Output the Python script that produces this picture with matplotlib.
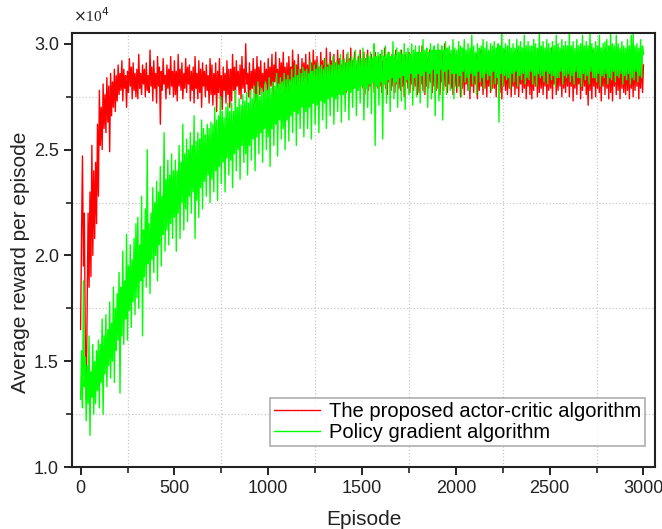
import numpy as np
import matplotlib
matplotlib.use("Agg")
import matplotlib.pyplot as plt
from matplotlib.ticker import MultipleLocator, FormatStrFormatter

episodes = np.arange(0, 3001, 5)

actor_critic = [
    1.65, 2.10, 2.47, 1.95, 2.20, 1.60, 1.32, 1.75, 2.20, 1.85, 2.30, 1.90, 2.52, 2.00, 2.40, 2.08, 2.44, 2.15, 2.62, 2.28,
    2.78, 2.52, 2.70, 2.50, 2.81, 2.60, 2.76, 2.58, 2.84, 2.63, 2.80, 2.49, 2.86, 2.66, 2.82, 2.70, 2.88, 2.68, 2.85, 2.73,
    2.90, 2.76, 2.86, 2.78, 2.92, 2.73, 2.88, 2.79, 2.85, 2.70, 2.87, 2.77, 2.93, 2.80, 2.89, 2.74, 2.91, 2.78, 2.86, 2.75,
    2.88, 2.74, 2.95, 2.79, 2.86, 2.76, 2.90, 2.81, 2.88, 2.75, 2.91, 2.78, 2.85, 2.77, 2.97, 2.80, 2.89, 2.73, 2.92, 2.79,
    2.86, 2.72, 2.94, 2.80, 2.89, 2.62, 2.87, 2.78, 2.93, 2.81, 2.85, 2.74, 2.90, 2.79, 2.88, 2.76, 2.94, 2.80, 2.87, 2.75,
    2.92, 2.76, 2.87, 2.73, 2.95, 2.80, 2.88, 2.78, 2.91, 2.74, 2.86, 2.79, 2.93, 2.77, 2.89, 2.81, 2.90, 2.73, 2.87, 2.78,
    2.89, 2.72, 2.94, 2.79, 2.86, 2.74, 2.92, 2.77, 2.88, 2.70, 2.91, 2.80, 2.87, 2.75, 2.90, 2.78, 2.85, 2.72, 2.93, 2.76,
    2.90, 2.71, 2.86, 2.76, 2.91, 2.68, 2.87, 2.77, 2.93, 2.74, 2.85, 2.69, 2.89, 2.78, 2.86, 2.72, 2.92, 2.76, 2.88, 2.70,
    2.88, 2.73, 2.95, 2.78, 2.89, 2.72, 2.92, 2.80, 2.87, 2.76, 2.90, 2.74, 2.94, 2.79, 2.88, 2.77, 3.00, 2.81, 2.86, 2.75,
    2.91, 2.74, 2.87, 2.79, 2.93, 2.77, 2.88, 2.72, 2.94, 2.80, 2.89, 2.76, 2.92, 2.78, 2.86, 2.75, 2.91, 2.81, 2.88, 2.77,
    2.93, 2.77, 2.89, 2.80, 2.95, 2.74, 2.90, 2.82, 2.96, 2.79, 2.88, 2.76, 2.93, 2.81, 2.91, 2.78, 2.96, 2.80, 2.89, 2.77,
    2.91, 2.75, 2.94, 2.82, 2.89, 2.78, 2.97, 2.81, 2.92, 2.76, 2.90, 2.80, 2.95, 2.79, 2.88, 2.77, 2.93, 2.82, 2.91, 2.78,
    2.95, 2.79, 2.90, 2.76, 2.96, 2.82, 2.91, 2.78, 2.97, 2.80, 2.92, 2.79, 2.94, 2.81, 2.89, 2.77, 2.96, 2.83, 2.92, 2.80,
    2.93, 2.77, 2.98, 2.81, 2.90, 2.79, 2.96, 2.83, 2.92, 2.78, 2.95, 2.80, 2.91, 2.76, 2.97, 2.82, 2.93, 2.79, 2.90, 2.81,
    2.97, 2.80, 2.91, 2.77, 2.95, 2.82, 2.93, 2.78, 2.98, 2.81, 2.92, 2.79, 2.96, 2.83, 2.90, 2.78, 2.94, 2.80, 2.97, 2.82,
    2.92, 2.79, 2.96, 2.76, 2.93, 2.83, 2.97, 2.78, 2.91, 2.80, 2.95, 2.82, 2.93, 2.77, 2.96, 2.81, 2.90, 2.79, 2.94, 2.80,
    2.95, 2.77, 2.92, 2.81, 2.98, 2.79, 2.93, 2.76, 2.96, 2.82, 2.91, 2.78, 2.95, 2.80, 2.93, 2.77, 2.97, 2.81, 2.92, 2.79,
    2.91, 2.78, 2.97, 2.80, 2.93, 2.75, 2.95, 2.82, 2.92, 2.79, 2.96, 2.77, 2.94, 2.81, 2.90, 2.78, 2.95, 2.80, 2.93, 2.76,
    2.96, 2.77, 2.93, 2.81, 2.99, 2.78, 2.92, 2.76, 2.95, 2.80, 2.93, 2.79, 2.97, 2.82, 2.91, 2.77, 2.94, 2.80, 2.96, 2.78,
    2.93, 2.79, 2.97, 2.76, 2.92, 2.82, 2.96, 2.78, 3.00, 2.80, 2.94, 2.77, 2.91, 2.81, 2.95, 2.79, 2.93, 2.76, 2.97, 2.80,
    2.94, 2.77, 2.91, 2.80, 2.96, 2.75, 2.93, 2.79, 2.97, 2.76, 2.92, 2.81, 2.95, 2.78, 2.93, 2.74, 2.96, 2.80, 2.91, 2.77,
    2.92, 2.81, 2.95, 2.74, 2.93, 2.78, 2.97, 2.80, 2.91, 2.76, 2.94, 2.79, 2.96, 2.75, 2.92, 2.80, 2.95, 2.77, 2.93, 2.79,
    2.96, 2.79, 2.92, 2.75, 2.98, 2.81, 2.93, 2.77, 2.95, 2.74, 2.91, 2.80, 2.97, 2.78, 2.93, 2.76, 2.96, 2.79, 2.92, 2.75,
    2.91, 2.80, 2.96, 2.76, 2.93, 2.79, 2.97, 2.75, 2.92, 2.81, 2.95, 2.77, 2.93, 2.79, 2.96, 2.74, 2.91, 2.80, 2.94, 2.76,
    2.95, 2.74, 2.93, 2.78, 2.97, 2.80, 2.91, 2.75, 2.96, 2.77, 2.93, 2.79, 2.95, 2.76, 2.92, 2.80, 2.97, 2.74, 2.93, 2.78,
    2.92, 2.79, 2.98, 2.74, 2.93, 2.81, 2.95, 2.76, 2.91, 2.78, 2.96, 2.80, 2.93, 2.75, 2.97, 2.79, 2.92, 2.77, 2.95, 2.80,
    2.96, 2.75, 2.93, 2.80, 2.97, 2.73, 2.92, 2.79, 2.95, 2.76, 2.93, 2.81, 2.96, 2.74, 2.91, 2.78, 2.95, 2.80, 2.93, 2.76,
    2.93, 2.71, 2.96, 2.78, 2.91, 2.74, 2.97, 2.80, 2.93, 2.75, 2.95, 2.79, 2.92, 2.77, 2.96, 2.73, 2.93, 2.80, 2.97, 2.76,
    2.95, 2.79, 2.92, 2.74, 2.98, 2.77, 2.93, 2.73, 2.96, 2.80, 2.92, 2.76, 2.95, 2.78, 2.93, 2.74, 2.97, 2.79, 2.91, 2.77,
    2.91, 2.76, 2.95, 2.78, 2.93, 2.74, 2.97, 2.79, 2.92, 2.75, 2.96, 2.78, 2.93, 2.80, 2.95, 2.74, 2.92, 2.79, 2.96, 2.77,
    2.90,
]

policy_gradient = [
    1.32, 1.55, 1.28, 1.88, 1.38, 1.52, 1.22, 1.48, 1.30, 1.62, 1.15, 1.45, 1.33, 1.58, 1.25, 1.50, 1.30, 1.55, 1.36, 1.60,
    1.28, 1.58, 1.40, 1.70, 1.25, 1.62, 1.44, 1.72, 1.38, 1.65, 1.48, 1.78, 1.42, 1.68, 1.50, 1.85, 1.40, 1.75, 1.55, 1.82,
    1.60, 1.92, 1.35, 1.85, 1.62, 2.02, 1.58, 1.88, 1.70, 2.10, 1.60, 1.95, 1.74, 2.05, 1.66, 1.98, 1.78, 2.08, 1.72, 2.15,
    1.80, 2.18, 1.75, 2.05, 1.88, 2.28, 1.62, 2.12, 1.90, 2.22, 1.85, 2.50, 1.96, 2.15, 1.82, 2.20, 1.98, 2.32, 1.92, 2.25,
    2.00, 2.35, 1.88, 2.30, 2.05, 2.42, 1.95, 2.28, 2.10, 2.58, 2.02, 2.36, 2.12, 2.45, 2.05, 2.38, 2.15, 2.48, 2.08, 2.40,
    2.18, 2.45, 2.02, 2.40, 2.20, 2.52, 2.08, 2.44, 2.25, 2.62, 2.12, 2.48, 2.22, 2.55, 2.16, 2.50, 2.28, 2.58, 2.20, 2.52,
    2.30, 2.66, 2.08, 2.54, 2.26, 2.58, 2.18, 2.55, 2.32, 2.64, 2.22, 2.60, 2.35, 2.57, 2.28, 2.62, 2.38, 2.60, 2.25, 2.63,
    2.36, 2.62, 2.30, 2.70, 2.40, 2.64, 2.26, 2.66, 2.42, 2.75, 2.34, 2.68, 2.44, 2.65, 2.30, 2.70, 2.46, 2.72, 2.38, 2.68,
    2.45, 2.72, 2.32, 2.68, 2.48, 2.78, 2.40, 2.70, 2.50, 2.74, 2.36, 2.71, 2.52, 2.76, 2.44, 2.73, 2.48, 2.77, 2.38, 2.72,
    2.52, 2.78, 2.45, 2.74, 2.55, 2.80, 2.40, 2.76, 2.56, 2.82, 2.48, 2.75, 2.58, 2.79, 2.44, 2.77, 2.60, 2.82, 2.50, 2.78,
    2.56, 2.84, 2.42, 2.79, 2.60, 2.82, 2.52, 2.80, 2.62, 2.86, 2.47, 2.81, 2.64, 2.84, 2.55, 2.82, 2.60, 2.86, 2.50, 2.83,
    2.64, 2.85, 2.54, 2.83, 2.66, 2.88, 2.58, 2.84, 2.68, 2.90, 2.52, 2.85, 2.67, 2.88, 2.60, 2.86, 2.70, 2.89, 2.56, 2.87,
    2.68, 2.88, 2.60, 2.86, 2.70, 2.92, 2.55, 2.87, 2.72, 2.90, 2.62, 2.88, 2.71, 2.91, 2.58, 2.89, 2.73, 2.90, 2.64, 2.88,
    2.72, 2.93, 2.60, 2.89, 2.74, 2.91, 2.66, 2.90, 2.75, 2.94, 2.62, 2.91, 2.74, 2.92, 2.68, 2.90, 2.76, 2.95, 2.63, 2.92,
    2.76, 2.93, 2.68, 2.91, 2.78, 2.96, 2.64, 2.92, 2.77, 2.94, 2.70, 2.93, 2.79, 2.97, 2.66, 2.92, 2.78, 2.95, 2.72, 2.93,
    2.80, 2.98, 2.64, 2.93, 2.79, 2.95, 2.70, 2.94, 2.81, 2.96, 2.67, 2.93, 2.82, 3.00, 2.52, 2.94, 2.80, 2.96, 2.71, 2.95,
    2.82, 2.97, 2.55, 2.94, 2.81, 2.99, 2.72, 2.95, 2.83, 2.96, 2.68, 2.94, 2.84, 3.01, 2.74, 2.95, 2.82, 2.98, 2.70, 2.96,
    2.84, 2.97, 2.73, 2.95, 2.85, 3.00, 2.69, 2.96, 2.83, 2.98, 2.76, 2.95, 2.86, 3.00, 2.71, 2.97, 2.84, 2.99, 2.75, 2.96,
    2.86, 2.99, 2.72, 2.96, 2.85, 3.02, 2.77, 2.97, 2.87, 2.98, 2.70, 2.96, 2.86, 3.00, 2.74, 2.97, 2.88, 2.99, 2.66, 2.97,
    2.86, 3.00, 2.73, 2.97, 2.88, 2.99, 2.64, 2.97, 2.87, 3.01, 2.76, 2.98, 2.88, 2.99, 2.78, 2.97, 2.86, 3.02, 2.74, 2.98,
    2.86, 2.97, 2.79, 3.01, 2.85, 2.99, 2.75, 2.98, 2.87, 3.02, 2.82, 2.97, 2.84, 3.00, 2.78, 2.98, 2.86, 3.04, 2.81, 2.99,
    2.85, 2.96, 2.76, 3.00, 2.87, 2.98, 2.82, 2.99, 2.84, 3.02, 2.79, 2.98, 2.86, 3.01, 2.83, 2.97, 2.85, 3.00, 2.78, 2.99,
    2.87, 3.01, 2.81, 2.98, 2.84, 3.00, 2.63, 2.99, 2.86, 3.05, 2.80, 2.98, 2.85, 3.00, 2.83, 2.99, 2.84, 3.02, 2.79, 2.98,
    2.86, 3.00, 2.82, 2.98, 2.87, 3.02, 2.80, 2.99, 2.85, 3.01, 2.83, 2.98, 2.86, 3.04, 2.81, 2.99, 2.84, 3.01, 2.83, 2.99,
    2.87, 2.99, 2.81, 3.02, 2.85, 3.00, 2.80, 2.98, 2.86, 3.05, 2.84, 2.99, 2.85, 3.01, 2.82, 2.98, 2.87, 3.02, 2.81, 3.00,
    2.86, 2.98, 2.83, 3.01, 2.85, 2.99, 2.80, 3.04, 2.84, 3.00, 2.84, 2.98, 2.87, 3.02, 2.81, 2.99, 2.85, 3.01, 2.84, 2.99,
    2.86, 3.05, 2.82, 2.99, 2.85, 3.01, 2.81, 2.98, 2.87, 3.02, 2.84, 2.99, 2.84, 3.00, 2.80, 3.04, 2.86, 2.99, 2.83, 3.01,
    2.85, 2.99, 2.81, 3.05, 2.87, 3.00, 2.84, 2.98, 2.84, 3.01, 2.82, 2.99, 2.86, 3.04, 2.80, 2.98, 2.85, 3.00, 2.84, 3.01,
    2.86, 3.02, 2.81, 2.99, 2.84, 3.05, 2.83, 3.00, 2.87, 2.99, 2.82, 3.04, 2.85, 3.00, 2.84, 2.98, 2.86, 3.01, 2.81, 2.99,
    2.85, 2.98, 2.83, 3.02, 2.86, 2.99, 2.81, 3.04, 2.84, 3.05, 2.83, 2.99, 2.87, 3.00, 2.82, 2.98, 2.85, 3.02, 2.84, 2.99,
    2.95,
]

labels = ["The proposed actor-critic algorithm", "Policy gradient algorithm"]

plt.rcParams['font.family'] = ['Liberation Sans', 'DejaVu Sans']

fig = plt.figure(figsize=(6.62, 5.29), dpi=100)
ax = fig.add_axes([0.109, 0.117, 0.880, 0.821])

ax.plot(episodes, actor_critic, color='#ff0000', lw=1.0, label=labels[0])
ax.plot(episodes, policy_gradient, color='#00ff00', lw=1.0, label=labels[1])

ax.set_xlim(-45, 3060)
ax.set_ylim(1.0, 3.052)
ax.xaxis.set_major_locator(MultipleLocator(500))
ax.xaxis.set_minor_locator(MultipleLocator(250))
ax.yaxis.set_major_locator(MultipleLocator(0.5))
ax.yaxis.set_minor_locator(MultipleLocator(0.25))
ax.yaxis.set_major_formatter(FormatStrFormatter('%.1f'))

ax.grid(which='minor', ls=':', color='#c8c8c8', lw=0.9)
ax.tick_params(which='major', direction='out', length=6, width=1.4,
               labelsize=13, colors='#222222')
ax.tick_params(which='minor', direction='out', length=4, width=1.2, colors='#222222')
for s in ax.spines.values():
    s.set_linewidth(1.5)
    s.set_color('#222222')

ax.set_xlabel("Episode", fontsize=15, color='#222222', labelpad=9)
ax.set_ylabel("Average reward per episode", fontsize=15, color='#222222')
ax.yaxis.set_label_coords(-0.072, 0.472)

fig.text(0.111, 0.952, r"$\times$10$^4$", fontsize=11, family='Liberation Serif',
         color='#222222', va='bottom', ha='left')

leg = ax.legend(loc='upper right', bbox_to_anchor=(0.983, 0.159), fontsize=14.5,
                frameon=True, fancybox=False, edgecolor='#999999',
                handlelength=2.3, borderpad=0.2, labelspacing=0.1,
                handletextpad=0.4, borderaxespad=0)
leg.get_frame().set_linewidth(1.2)

fig.savefig("out.png", dpi=100)
